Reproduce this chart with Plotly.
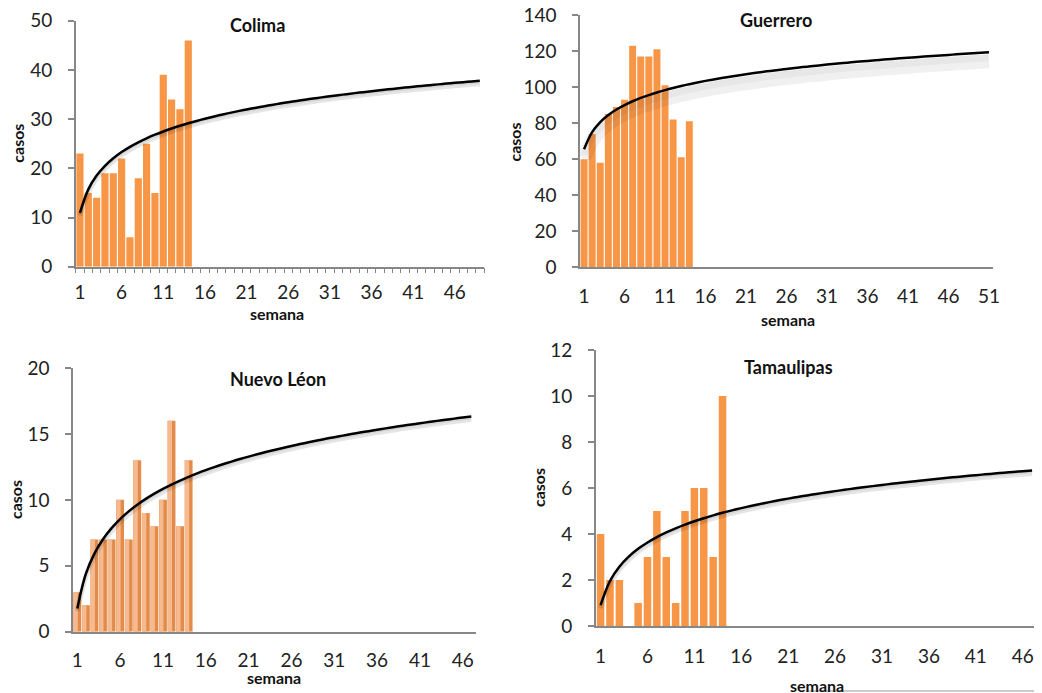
import numpy as np
import plotly.graph_objects as go

# page body has an 8px margin: draw in a 1034x685 figure and shift pixel positions by 8
OFF = 8
W, H = 1042 - OFF, 693 - OFF

# ---- data ----
colima_weeks = list(range(1, 15))
colima_cases = [23, 15, 14, 19, 19, 22, 6, 18, 25, 15, 39, 34, 32, 46]
guerrero_weeks = list(range(1, 15))
guerrero_cases = [60, 74, 58, 85, 89, 93, 123, 117, 117, 121, 101, 82, 61, 81]
nl_weeks = list(range(1, 15))
nl_cases = [3, 2, 7, 7, 7, 10, 7, 13, 9, 8, 10, 16, 8, 13]
tam_weeks = list(range(1, 15))
tam_cases = [4, 2, 2, 0, 1, 3, 5, 3, 1, 5, 6, 6, 3, 10]

n_weeks = {"Colima": 49, "Guerrero": 51, "Nuevo Léon": 47, "Tamaulipas": 47}
y_max = {"Colima": 50, "Guerrero": 140, "Nuevo Léon": 20, "Tamaulipas": 12}
y_step = {"Colima": 10, "Guerrero": 20, "Nuevo Léon": 5, "Tamaulipas": 2}
x_tick_labels = [1, 6, 11, 16, 21, 26, 31, 36, 41, 46, 51]

# ---- layout in reference pixels (style) ----
panels = {
    "Colima":     dict(x0=75.8, x1=484.0, ytop=20.7, ybot=266.7, title=(257, 25),
                       casos=(16.7, 143), semana=(277, 314), shadow=0.6, sw=5, sa=0.10),
    "Guerrero":   dict(x0=580.0, x1=993.0, ytop=15.0, ybot=267.3, title=(776, 20),
                       casos=(514.5, 142), semana=(788, 319), shadow=5.0, sw=14, sa=0.06),
    "Nuevo Léon": dict(x0=73.0, x1=475.6, ytop=368.0, ybot=631.7, title=(277.7, 379),
                       casos=(15, 500), semana=(274, 677.5), shadow=0.22, sw=5, sa=0.10),
    "Tamaulipas": dict(x0=595.9, x1=1036.8, ytop=350.0, ybot=626.0, title=(788, 366.7),
                       casos=(538, 488), semana=(816.6, 685), shadow=0.13, sw=5, sa=0.10),
}
series = {
    "Colima": (colima_weeks, colima_cases),
    "Guerrero": (guerrero_weeks, guerrero_cases),
    "Nuevo Léon": (nl_weeks, nl_cases),
    "Tamaulipas": (tam_weeks, tam_cases),
}

ORANGE = "#F79646"
AXIS = "#878787"
FONT = "Lato"


def px(x):
    return (x - OFF) / W


def py(y):
    return 1 - (y - OFF) / H


fig = go.Figure()
annotations = []

for i, (name, p) in enumerate(panels.items(), start=1):
    xa = "x" if i == 1 else f"x{i}"
    ya = "y" if i == 1 else f"y{i}"
    weeks, cases = series[name]
    N = n_weeks[name]

    # logarithmic trendline (least squares on ln x), forecast to last week
    b, a = np.polyfit(np.log(np.array(weeks, float)), np.array(cases, float), 1)
    xt = np.arange(1, N + 1)
    yt = a + b * np.log(xt)

    if name == "Nuevo Léon":
        fig.add_trace(go.Bar(x=weeks, y=cases, width=0.92, offset=-0.46,
                             marker=dict(color="#E38B48", line=dict(width=0)),
                             xaxis=xa, yaxis=ya, showlegend=False))
        fig.add_trace(go.Bar(x=weeks, y=cases, width=0.5, offset=-0.44,
                             marker=dict(color="#F6BA90", line=dict(width=0)),
                             xaxis=xa, yaxis=ya, showlegend=False))
    else:
        bw = 0.8 if name == "Tamaulipas" else 0.86
        fig.add_trace(go.Bar(x=weeks, y=cases, width=bw,
                             marker=dict(color=ORANGE, line=dict(width=0)),
                             xaxis=xa, yaxis=ya, showlegend=False))

    # soft shadow below the trendline
    fig.add_trace(go.Scatter(x=xt, y=yt - p["shadow"], mode="lines", line_shape="spline",
                             line=dict(color=f"rgba(0,0,0,{p['sa']})", width=p["sw"]),
                             xaxis=xa, yaxis=ya, showlegend=False, hoverinfo="skip"))
    fig.add_trace(go.Scatter(x=xt, y=yt - p["shadow"] * 0.6, mode="lines", line_shape="spline",
                             line=dict(color=f"rgba(0,0,0,{p['sa'] * 0.6})", width=p["sw"] * 0.5),
                             xaxis=xa, yaxis=ya, showlegend=False, hoverinfo="skip"))
    fig.add_trace(go.Scatter(x=xt, y=yt, mode="lines", line_shape="spline",
                             line=dict(color="black", width=2.5),
                             xaxis=xa, yaxis=ya, showlegend=False))

    xdom = [px(p["x0"]), px(p["x1"])]
    ydom = [py(p["ybot"]), py(p["ytop"])]
    tv = [t for t in x_tick_labels if t <= N]
    xaxis = dict(domain=xdom, range=[0.5, N + 0.5], anchor=ya, automargin=False,
                 tickvals=tv, ticktext=[str(t) for t in tv], ticklabeloverflow="allow",
                 showgrid=False, zeroline=False, showline=True, linecolor=AXIS, linewidth=1.5,
                 ticks="", ticklabelstandoff=11 if name != "Tamaulipas" else 12,
                 tickfont=dict(family=FONT, size=19, color="#222"))
    if name == "Colima":
        xaxis["minor"] = dict(ticks="outside", tickmode="linear", tick0=0.5, dtick=1,
                              ticklen=5, tickcolor=AXIS, tickwidth=1, showgrid=False)
        xaxis["ticklabelstandoff"] = 8
    yaxis = dict(domain=ydom, range=[0, y_max[name]], anchor=xa, automargin=False,
                 dtick=y_step[name], tick0=0, ticklabeloverflow="allow",
                 showgrid=False, zeroline=False, showline=True, linecolor=AXIS, linewidth=1.5,
                 ticks="outside", ticklen=6, tickcolor=AXIS, tickwidth=1.5,
                 ticklabelstandoff=12,
                 tickfont=dict(family=FONT, size=19, color="#222"))
    fig.layout[f"xaxis{'' if i == 1 else i}"] = xaxis
    fig.layout[f"yaxis{'' if i == 1 else i}"] = yaxis

    annotations.append(dict(x=px(p["title"][0]), y=py(p["title"][1]), xref="paper", yref="paper",
                            text=f"<b>{name}</b>", showarrow=False,
                            font=dict(family=FONT, size=18, color="#111"),
                            xanchor="center", yanchor="middle"))
    annotations.append(dict(x=px(p["casos"][0]), y=py(p["casos"][1]), xref="paper", yref="paper",
                            text="<b>casos</b>", showarrow=False, textangle=-90,
                            font=dict(family=FONT, size=16, color="#111"),
                            xanchor="center", yanchor="middle"))
    annotations.append(dict(x=px(p["semana"][0]), y=py(p["semana"][1]), xref="paper", yref="paper",
                            text="<b>semana</b>", showarrow=False,
                            font=dict(family=FONT, size=16, color="#111"),
                            xanchor="center", yanchor="middle"))

fig.update_layout(
    template="none",
    width=W, height=H, margin=dict(l=0, r=0, t=0, b=0, autoexpand=False),
    paper_bgcolor="white", plot_bgcolor="white",
    barmode="overlay", showlegend=False,
    annotations=annotations,
    shapes=[dict(type="line", xref="paper", yref="paper",
                 x0=px(806), x1=px(1037), y0=py(691), y1=py(691),
                 line=dict(color="#999", width=1))],
)

fig.write_html("out.html")
